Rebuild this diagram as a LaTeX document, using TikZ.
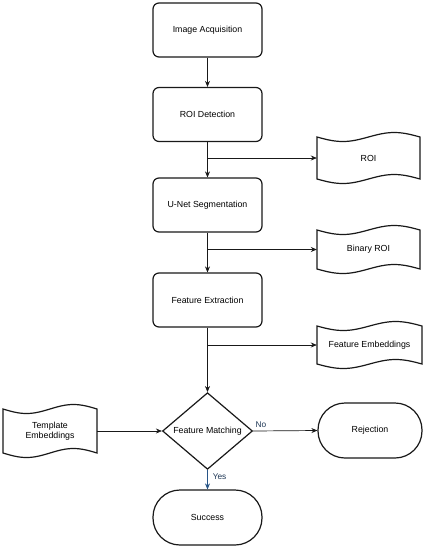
\documentclass[tikz,border=0pt]{standalone}
\usepackage{fontspec}
\setmainfont{Liberation Sans}
\usetikzlibrary{arrows.meta,shapes.geometric,calc}
\definecolor{edgec}{RGB}{25,25,25}
\definecolor{yesblue}{RGB}{40,85,135}
\definecolor{lblblue}{RGB}{30,55,85}
\newcommand\tapeshape[6]{%
  \pgfmathsetmacro\tL{#2-#4/2}%
  \pgfmathsetmacro\tT{#3-#5/2}%
  \pgfmathsetmacro\tB{#3+#5/2}%
  \draw[shapeline] plot[domain=0:1,samples=40] ({\tL+\x*#4},{\tT+4.5+4.5*sin(360*\x)})
    -- plot[domain=1:0,samples=40] ({\tL+\x*#4},{\tB-4.5+4.5*sin(360*\x)}) -- cycle;
  \node[txt,minimum width=#4pt,minimum height=#5pt,inner sep=0pt] (#1) at (#2,#3) {#6};%
}
\begin{document}
\begin{tikzpicture}[x=1pt,y=-1pt,
  txt/.style={font=\fontsize{8.8}{10.5}\selectfont,text=black,align=center},
  shapeline/.style={draw=edgec,line width=1.2pt,fill=white},
  procbox/.style={txt,shapeline,rectangle,rounded corners=6pt,minimum width=109pt,minimum height=54pt,inner sep=0pt},
  termbox/.style={txt,shapeline,rectangle,rounded corners=27pt,minimum width=104pt,minimum height=55pt,inner sep=0pt},
  decbox/.style={txt,shapeline,diamond,minimum width=90pt,minimum height=68pt,inner sep=0pt},
  arrow/.style={draw=edgec,line width=0.7pt,-{Stealth[length=6pt,width=5pt]}},
  lbl/.style={font=\fontsize{8.3}{10}\selectfont,text=lblblue,inner sep=1pt}]
\useasboundingbox (0,0) rectangle (430,550);
\fill[white] (0,0) rectangle (430,550);

\node[procbox] (acq) at (207.5,30) {Image Acquisition};
\node[procbox] (roid) at (207.5,114.5) {ROI Detection};
\node[procbox] (unet) at (207.5,205) {U-Net Segmentation};
\node[procbox] (fext) at (207.5,300) {Feature Extraction};
\node[decbox] (fm) at (207.5,431) {Feature Matching};
\node[termbox] (rej) at (370,430.5) {Rejection};
\node[procbox,rounded corners=27pt,minimum height=55pt] (succ) at (207.5,517.5) {Success};

\tapeshape{roi}{368.5}{158}{103}{51}{ROI}
\tapeshape{broi}{368.5}{249.5}{103}{48}{Binary ROI}
\tapeshape{femb}{369.5}{345}{105}{47}{Feature Embeddings}
\tapeshape{temb}{50}{431}{94}{53}{Template\\Embeddings}

\coordinate (b1) at (roid.south |- roi.west);
\coordinate (b2) at (unet.south |- broi.west);
\coordinate (b3) at (fext.south |- femb.west);

\draw[arrow] (acq) -- (roid);
\draw[arrow] (roid) -- (unet);
\draw[arrow] (b1) -- (roi.west);
\draw[arrow] (unet) -- (fext);
\draw[arrow] (b2) -- (broi.west);
\draw[arrow] (fext) -- (fm);
\draw[arrow] (b3) -- (femb.west);
\draw[arrow] (temb.east) -- (fm.west);
\draw[arrow] (fm.east) -- node[lbl,pos=0.02,anchor=south west,yshift=2pt] (nol) {No} (rej.west);
\draw[arrow,draw=yesblue] (fm.south) -- node[lbl,anchor=west,xshift=4pt,pos=0.35] (yesl) {Yes} (succ.north);
\end{tikzpicture}
\end{document}
